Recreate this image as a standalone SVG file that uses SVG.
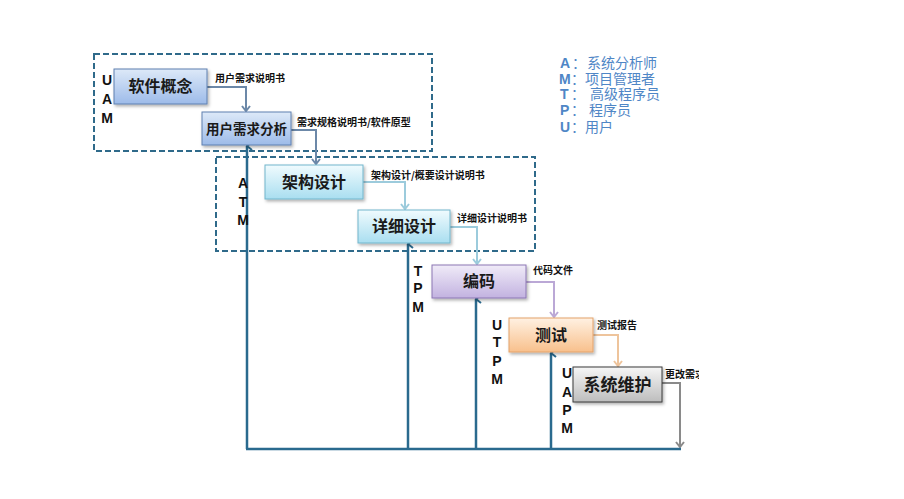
<svg xmlns="http://www.w3.org/2000/svg" width="904" height="499" viewBox="0 0 904 499">
<style>
.box{stroke-width:1}
.lbl{font-family:"Noto Sans CJK SC","Liberation Sans",sans-serif;font-size:16px;font-weight:bold;fill:#1a1a1a;text-anchor:middle}
.sm{font-family:"Noto Sans CJK SC","Liberation Sans",sans-serif;font-size:10px;font-weight:bold;fill:#111}
.let{font-family:"Liberation Sans","Noto Sans CJK SC",sans-serif;font-size:14px;font-weight:bold;fill:#111;text-anchor:middle}
.leg{font-family:"Noto Sans CJK SC","Liberation Sans",sans-serif;font-size:14px;fill:#4f86c6}
.legl{font-family:"Liberation Sans","Noto Sans CJK SC",sans-serif;font-weight:bold}
.dash{fill:none;stroke:#2f6a8a;stroke-width:2;stroke-dasharray:6,3}
.fb{fill:none;stroke:#2a6a8e;stroke-width:2.5}
.c{fill:none;stroke-width:2}
</style>
<defs>
<linearGradient id="gBlue" x1="0" y1="0" x2="0" y2="1"><stop offset="0" stop-color="#dde9f8"/><stop offset="1" stop-color="#9dbbe9"/></linearGradient>
<linearGradient id="gCyan" x1="0" y1="0" x2="0" y2="1"><stop offset="0" stop-color="#f0fbfe"/><stop offset="1" stop-color="#a9def0"/></linearGradient>
<linearGradient id="gPurple" x1="0" y1="0" x2="0" y2="1"><stop offset="0" stop-color="#f0ebf8"/><stop offset="1" stop-color="#c2b2e0"/></linearGradient>
<linearGradient id="gOrange" x1="0" y1="0" x2="0" y2="1"><stop offset="0" stop-color="#fff1e2"/><stop offset="1" stop-color="#f8c08c"/></linearGradient>
<linearGradient id="gGrey" x1="0" y1="0" x2="0" y2="1"><stop offset="0" stop-color="#f6f6f6"/><stop offset="1" stop-color="#bdbdbd"/></linearGradient>
<filter id="sh" x="-10%" y="-10%" width="130%" height="140%"><feDropShadow dx="1.5" dy="2" stdDeviation="1.5" flood-color="#000" flood-opacity="0.3"/></filter>
<marker id="aFb" markerWidth="10" markerHeight="10" refX="5" refY="1" orient="auto-start-reverse" markerUnits="userSpaceOnUse" viewBox="0 0 10 10"><path d="M1,6 L5,1 L9,6" fill="none" stroke="#2a6a8e" stroke-width="2"/></marker>
<marker id="a1" markerWidth="10" markerHeight="10" refX="5" refY="9" orient="0" markerUnits="userSpaceOnUse" viewBox="0 0 10 10"><path d="M1,4 L5,9 L9,4" fill="none" stroke="#6c88a8" stroke-width="2"/></marker>
<marker id="a2" markerWidth="10" markerHeight="10" refX="5" refY="9" orient="0" markerUnits="userSpaceOnUse" viewBox="0 0 10 10"><path d="M1,4 L5,9 L9,4" fill="none" stroke="#9ccbdc" stroke-width="2"/></marker>
<marker id="a3" markerWidth="10" markerHeight="10" refX="5" refY="9" orient="0" markerUnits="userSpaceOnUse" viewBox="0 0 10 10"><path d="M1,4 L5,9 L9,4" fill="none" stroke="#bba8d6" stroke-width="2"/></marker>
<marker id="a4" markerWidth="10" markerHeight="10" refX="5" refY="9" orient="0" markerUnits="userSpaceOnUse" viewBox="0 0 10 10"><path d="M1,4 L5,9 L9,4" fill="none" stroke="#eec49c" stroke-width="2"/></marker>
<marker id="a5" markerWidth="10" markerHeight="10" refX="5" refY="9" orient="0" markerUnits="userSpaceOnUse" viewBox="0 0 10 10"><path d="M1,4 L5,9 L9,4" fill="none" stroke="#8a8a8a" stroke-width="2"/></marker>
<clipPath id="clipR"><rect x="0" y="0" width="699" height="499"/></clipPath>
</defs>
<rect width="904" height="499" fill="#ffffff"/>

<g id="phases">
<rect class="dash" x="94" y="54" width="338" height="97"/>
<rect class="dash" x="216" y="157" width="319" height="94"/>
</g>

<g id="connectors">
<path class="c" stroke="#6c88a8" d="M207,87 H246 V111" marker-end="url(#a1)"/>
<path class="c" stroke="#6c88a8" d="M291,130 H316 V164" marker-end="url(#a1)"/>
<path class="c" stroke="#9ccbdc" d="M363,182 H405 V209" marker-end="url(#a2)"/>
<path class="c" stroke="#9ccbdc" d="M450,227 H477 V264" marker-end="url(#a2)"/>
<path class="c" stroke="#bba8d6" d="M526,282 H554 V317" marker-end="url(#a3)"/>
<path class="c" stroke="#eec49c" d="M593,335 H618 V366" marker-end="url(#a4)"/>
<path class="c" stroke="#8a8a8a" d="M662,383 H680 V447" marker-end="url(#a5)"/>
<path class="fb" d="M246,449 H681"/>
<path class="fb" d="M247,449 V146" marker-end="url(#aFb)"/>
<path class="fb" d="M408,449 V244" marker-end="url(#aFb)"/>
<path class="fb" d="M476,449 V299" marker-end="url(#aFb)"/>
<path class="fb" d="M551,449 V353" marker-end="url(#aFb)"/>
</g>

<g id="n-concept">
<rect class="box" x="114" y="69" width="93" height="35" fill="url(#gBlue)" stroke="#5f80b0" filter="url(#sh)"/>
<text class="lbl" x="160.5" y="92">软件概念</text>
</g>
<g id="n-req">
<rect class="box" x="202" y="112" width="89" height="33" fill="url(#gBlue)" stroke="#5f80b0" filter="url(#sh)"/>
<text class="lbl" x="246.5" y="134" style="font-size:13.5px">用户需求分析</text>
</g>
<g id="n-arch">
<rect class="box" x="265" y="165" width="98" height="34" fill="url(#gCyan)" stroke="#72b6cc" filter="url(#sh)"/>
<text class="lbl" x="314" y="188">架构设计</text>
</g>
<g id="n-detail">
<rect class="box" x="358" y="210" width="92" height="33" fill="url(#gCyan)" stroke="#72b6cc" filter="url(#sh)"/>
<text class="lbl" x="404" y="232">详细设计</text>
</g>
<g id="n-code">
<rect class="box" x="432" y="265" width="94" height="33" fill="url(#gPurple)" stroke="#8c76b4" filter="url(#sh)"/>
<text class="lbl" x="479" y="287">编码</text>
</g>
<g id="n-test">
<rect class="box" x="509" y="318" width="84" height="34" fill="url(#gOrange)" stroke="#e4a26a" filter="url(#sh)"/>
<text class="lbl" x="551" y="341">测试</text>
</g>
<g id="n-maint">
<rect class="box" x="573" y="367" width="89" height="35" fill="url(#gGrey)" stroke="#3a3a3a" filter="url(#sh)"/>
<text class="lbl" x="617.5" y="391" style="font-size:17px">系统维护</text>
</g>

<g id="labels">
<text class="sm" x="215" y="82">用户需求说明书</text>
<text class="sm" x="297" y="125.5">需求规格说明书/软件原型</text>
<text class="sm" x="371" y="178.5">架构设计/概要设计说明书</text>
<text class="sm" x="457" y="221.5">详细设计说明书</text>
<text class="sm" x="533" y="273.5">代码文件</text>
<text class="sm" x="597" y="328.5">测试报告</text>
<text class="sm" x="665" y="377.5" clip-path="url(#clipR)">更改需求</text>
</g>

<g id="roles">
<text class="let" x="107" y="85">U</text><text class="let" x="107" y="104">A</text><text class="let" x="107" y="123">M</text>
<text class="let" x="243" y="188">A</text><text class="let" x="243" y="207">T</text><text class="let" x="243" y="225">M</text>
<text class="let" x="418" y="276">T</text><text class="let" x="418" y="293">P</text><text class="let" x="418" y="312">M</text>
<text class="let" x="497" y="330">U</text><text class="let" x="497" y="347">T</text><text class="let" x="497" y="366">P</text><text class="let" x="497" y="384">M</text>
<text class="let" x="567" y="378">U</text><text class="let" x="567" y="397">A</text><text class="let" x="567" y="415">P</text><text class="let" x="567" y="433">M</text>
</g>

<g id="legend">
<text class="leg" y="68"><tspan class="legl" x="560">A</tspan><tspan x="572">：</tspan><tspan x="587">系统分析师</tspan></text>
<text class="leg" y="84"><tspan class="legl" x="559">M</tspan><tspan x="571">：项目管理者</tspan></text>
<text class="leg" y="99"><tspan class="legl" x="560">T</tspan><tspan x="571">：</tspan><tspan x="590">高级程序员</tspan></text>
<text class="leg" y="115"><tspan class="legl" x="560">P</tspan><tspan x="571">：</tspan><tspan x="589">程序员</tspan></text>
<text class="leg" y="132"><tspan class="legl" x="560">U</tspan><tspan x="571">：用户</tspan></text>
</g>
</svg>
